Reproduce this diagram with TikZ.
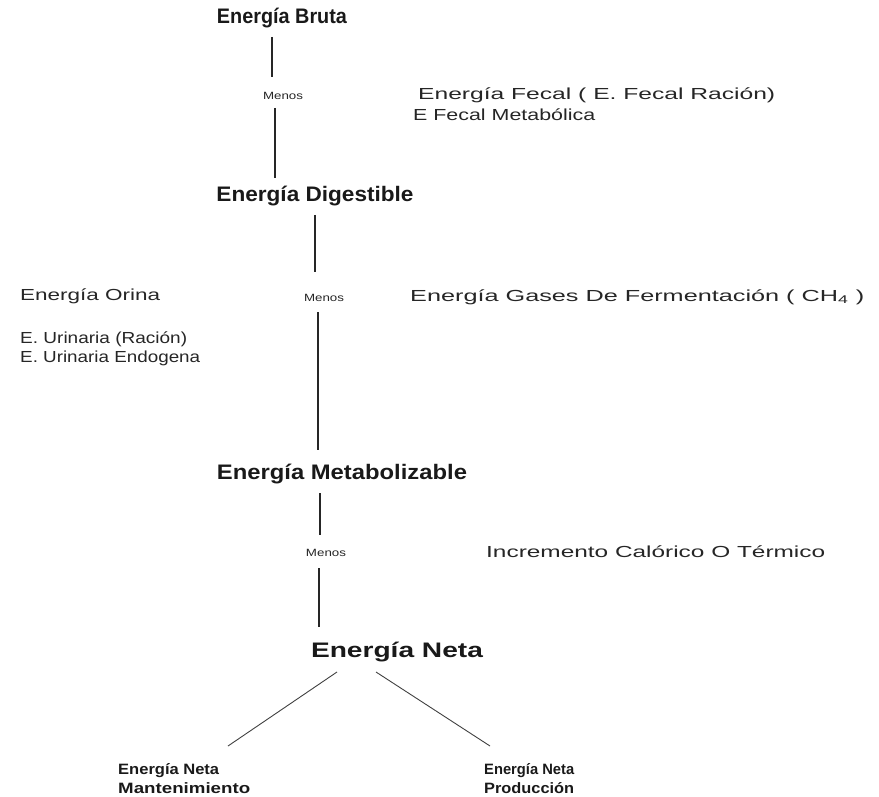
\documentclass[tikz,border=0pt]{standalone}
\usepackage{graphicx}
\usepackage{fontspec}
\setmainfont{Liberation Sans}
\newcommand{\wfit}[2]{\resizebox{#1pt}{\height}{#2}}
\begin{document}
\begin{tikzpicture}[x=1pt,y=-1pt,
  title/.style={font=\fontsize{21}{25}\selectfont\bfseries, inner sep=0pt, text=black!90},
  leaf/.style={font=\fontsize{15}{18}\selectfont\bfseries, inner sep=0pt, align=left, anchor=north west, text=black!90},
  side/.style={font=\fontsize{16}{19}\selectfont, inner sep=0pt, anchor=west, text=black!85},
  menos/.style={font=\fontsize{10.5}{12}\selectfont, inner sep=0pt, text=black!85},
  vline/.style={line width=1.6pt, black!85},
  dline/.style={line width=0.9pt, black!75}]
\useasboundingbox (0,0) rectangle (879,797);
% main nodes
\node[title] (bruta) at (282,18) {\wfit{130}{Energía Bruta}};
\node[menos] (m1) at (283,96) {\wfit{40}{Menos}};
\node[side] (fecal1) at (418,95) {\wfit{357}{Energía Fecal ( E. Fecal Ración)}};
\node[side] (fecal2) at (413,115) {\wfit{182}{E Fecal Metabólica}};
\node[title] (dig) at (315,196) {\wfit{197}{Energía Digestible}};
\node[side] (orina) at (20,296) {\wfit{140}{Energía Orina}};
\node[menos] (m2) at (324,298) {\wfit{40}{Menos}};
\node[side] (gases) at (410,297) {\wfit{454}{Energía Gases De Fermentación ( CH\textsubscript{4} )}};
\node[side] (ur1) at (20,339) {\wfit{167}{E. Urinaria (Ración)}};
\node[side] (ur2) at (20,358) {\wfit{180}{E. Urinaria Endogena}};
\node[title] (met) at (342,474) {\wfit{250}{Energía Metabolizable}};
\node[menos] (m3) at (326,553) {\wfit{40}{Menos}};
\node[side] (inc) at (486,552) {\wfit{339}{Incremento Calórico O Térmico}};
\node[title] (neta) at (397,652) {\wfit{172}{Energía Neta}};
\node[leaf] (man) at (118,763) {\wfit{101}{Energía Neta}\\[1pt]\wfit{132}{Mantenimiento}};
\node[leaf] (prod) at (484,763) {\wfit{90}{Energía Neta}\\[1pt]\wfit{90}{Producción}};
% connector end points
\coordinate (a1) at (272,37); \coordinate (a2) at (272,77);
\coordinate (b1) at (275,108); \coordinate (b2) at (275,178);
\coordinate (c1) at (315,215); \coordinate (c2) at (315,272);
\coordinate (d1) at (318,312); \coordinate (d2) at (318,450);
\coordinate (e1) at (320,493); \coordinate (e2) at (320,535);
\coordinate (f1) at (319,568); \coordinate (f2) at (319,627);
\coordinate (g1) at (337,672); \coordinate (g2) at (228,746);
\coordinate (h1) at (376,672); \coordinate (h2) at (490,746);
\draw[vline] (a1) -- (a2);
\draw[vline] (b1) -- (b2);
\draw[vline] (c1) -- (c2);
\draw[vline] (d1) -- (d2);
\draw[vline] (e1) -- (e2);
\draw[vline] (f1) -- (f2);
\draw[dline] (g1) -- (g2);
\draw[dline] (h1) -- (h2);
\end{tikzpicture}
\end{document}
